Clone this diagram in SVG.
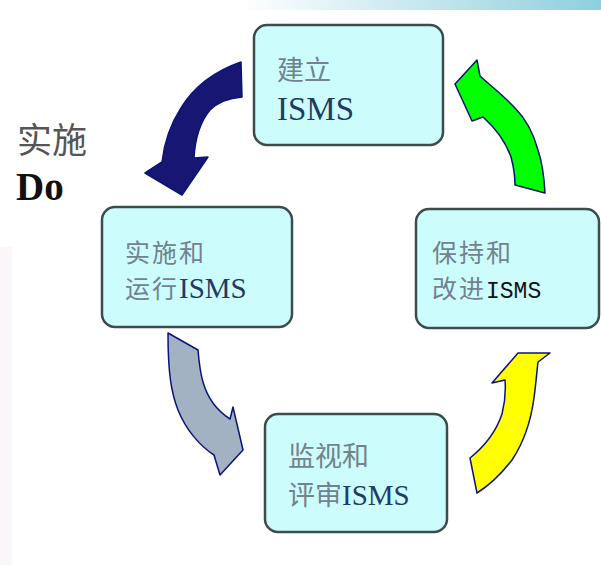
<svg xmlns="http://www.w3.org/2000/svg" width="601" height="565" viewBox="0 0 601 565">
  <defs>
    <linearGradient id="topBar" x1="0" y1="0" x2="1" y2="0">
      <stop offset="0" stop-color="#ffffff"/>
      <stop offset="0.4" stop-color="#ffffff"/>
      <stop offset="1" stop-color="#8ecfdd"/>
    </linearGradient>
  </defs>
  <style>
    .box { fill: #ccfcfc; stroke: #3c4c4c; stroke-width: 2.5; }
    .cn { font-family: "Noto Sans CJK SC", sans-serif; font-size: 27px; fill: #72828f; }
    .cn.tight { font-size: 25px; letter-spacing: 2px; }
    .latin { font-family: "Liberation Serif", "Times New Roman", serif; fill: #1f3b66; }
    .mono { font-family: "Liberation Mono", monospace; fill: #111111; }
    .arrow { stroke: #0a1478; stroke-width: 1.5; stroke-linejoin: round; }
  </style>

  <!-- page background -->
  <rect x="0" y="0" width="601" height="565" fill="#ffffff"/>
  <rect x="0" y="0" width="601" height="10" fill="url(#topBar)"/>
  <rect x="0" y="247" width="12" height="318" fill="#faf6fa"/>

  <!-- side label -->
  <g id="label-do">
    <text x="17" y="153" font-family="Noto Sans CJK SC, sans-serif" font-size="35" fill="#555555">实施</text>
    <text x="16" y="200" class="latin" font-size="39" font-weight="bold" style="fill:#111111">Do</text>
  </g>

  <!-- cycle arrows -->
  <g id="connectors">
    <path class="arrow" fill="#171773" d="M241,62 C218,70 195,85 181,108 C170,125 164,145 162,162 L145,173 L182,195 L208,157 L194,158 C195,140 200,122 210,110 C218,102 230,98 242,97 Z"/>
    <path class="arrow" fill="#00ff00" d="M477,60 L455,84 L472,121 L483,117 C493,126 505,140 511,157 C514,168 515,177 515,185 L545,193 C544,175 542,162 538,150 C533,132 525,118 515,108 C504,96 492,87 480,76 Z"/>
    <path class="arrow" fill="#a3b2c2" d="M168,333 L198,350 C199,362 200,372 203,382 C207,396 216,410 230,419 L233,407 L243,450 L220,475 L214,455 C200,446 186,430 178,410 C171,392 168,372 168,333 Z"/>
    <path class="arrow" fill="#ffff00" d="M550,353 L518,353 L492,383 L505,380 C506,392 505,402 502,414 C496,432 485,446 470,458 L477,493 C490,485 502,473 512,460 C524,442 531,420 534,398 C536,383 537,370 538,362 Z"/>
  </g>

  <!-- stage boxes -->
  <g id="node-plan">
    <rect class="box" x="254" y="25" width="189" height="120" rx="13"/>
    <text class="cn" x="277" y="80" font-size="31">建立</text>
    <text class="latin" x="277" y="120" font-size="33">ISMS</text>
  </g>

  <g id="node-do">
    <rect class="box" x="102" y="207" width="190" height="120" rx="13"/>
    <text class="cn tight" x="125" y="262">实施和</text>
    <text x="125" y="298"><tspan class="cn tight">运行</tspan><tspan class="latin" font-size="29">ISMS</tspan></text>
  </g>

  <g id="node-check">
    <rect class="box" x="265" y="414" width="182" height="118" rx="13"/>
    <text class="cn" x="288" y="466">监视和</text>
    <text x="288" y="505"><tspan class="cn">评审</tspan><tspan class="latin" font-size="29">ISMS</tspan></text>
  </g>

  <g id="node-act">
    <rect class="box" x="416" y="209" width="183" height="119" rx="13"/>
    <text class="cn tight" x="432" y="262">保持和</text>
    <text x="432" y="298"><tspan class="cn tight">改进</tspan><tspan class="mono" font-size="23">ISMS</tspan></text>
  </g>
</svg>
